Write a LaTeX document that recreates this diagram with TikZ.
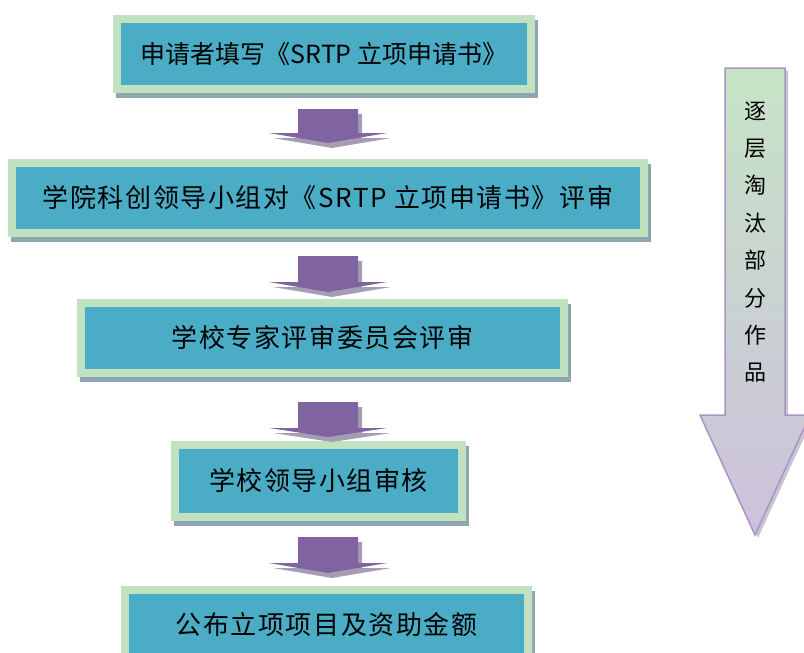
\documentclass[tikz,border=0pt]{standalone}
\usepackage{fontspec}
\newfontfamily\cjk{Noto Sans CJK SC}[LetterSpace=6]
\newfontfamily\cjkv{Noto Sans CJK SC}
\usetikzlibrary{backgrounds}
\definecolor{boxfill}{HTML}{4BACC6}
\definecolor{boxline}{HTML}{C0E2C1}
\definecolor{boxshadow}{HTML}{8FA6B2}
\definecolor{arrfill}{HTML}{8064A2}
\definecolor{arrshadow}{HTML}{A59DB3}
\definecolor{bigtop}{HTML}{C6E4C6}
\definecolor{bigbot}{HTML}{CDC1DC}
\definecolor{bigline}{HTML}{A895C4}
\tikzset{
  stepbox/.style={draw=boxline, line width=8pt, fill=boxfill, minimum height=70pt,
    inner sep=0pt, font=\cjk\fontsize{26}{26}\selectfont, text=black},
}
\newcommand\boxshadow[1]{%
  \fill[boxshadow] ([shift={(3,5)}]#1.north west) rectangle ([shift={(3,5)}]#1.south east);}
\newcommand\blockarr[4]{% name, top, head y, tip
  \fill[arrshadow, shift={(4,5)}] (298,#2) -- (358,#2) -- (358,#3) -- (387,#3) -- (328,#4) -- (269,#3) -- (298,#3) -- cycle;
  \fill[arrfill] (298,#2) -- (358,#2) -- (358,#3) -- (387,#3) -- (328,#4) coordinate (#1) -- (269,#3) -- (298,#3) -- cycle;}
\begin{document}
\begin{tikzpicture}[x=1pt,y=-1pt]
\useasboundingbox (0,0) rectangle (804,653);
\clip (0,0) rectangle (804,653);
% boxes
\node[stepbox, minimum width=414pt, font=\cjkv\fontsize{25}{25}\selectfont] (b1) at (324,54) {申请者填写《SRTP 立项申请书》};
\node[stepbox, minimum width=632pt] (b2) at (328,198) {学院科创领导小组对《SRTP 立项申请书》评审};
\node[stepbox, minimum width=483pt] (b3) at (322.5,338) {学校专家评审委员会评审};
\node[stepbox, minimum width=287pt, minimum height=72pt] (b4) at (318.5,481) {学校领导小组审核};
\node[stepbox, minimum width=403pt] (b5) at (326.5,625) {公布立项项目及资助金额};
\begin{scope}[on background layer]
  \boxshadow{b1}\boxshadow{b2}\boxshadow{b3}\boxshadow{b4}\boxshadow{b5}
\end{scope}
% arrows between boxes
\blockarr{a1}{109}{133}{143}
\blockarr{a2}{256}{282}{292}
\blockarr{a3}{402}{428}{437}
\blockarr{a4}{537}{563}{573}
% big right arrow
\fill[arrshadow!60, shift={(3,3)}] (725,68) -- (785,68) -- (785,415) -- (810,415) -- (755,535) -- (700,415) -- (725,415) -- cycle;
\shadedraw[top color=bigtop, bottom color=bigbot, draw=bigline, line width=1.5pt]
  (725,68) -- (785,68) -- (785,415) -- (810,415) -- (755,535) -- (700,415) -- (725,415) -- cycle;
\node[align=center, inner sep=0pt, font=\cjkv\fontsize{22}{37.4}\selectfont] (t) at (755,242)
  {逐\\层\\淘\\汰\\部\\分\\作\\品};
\end{tikzpicture}
\end{document}
